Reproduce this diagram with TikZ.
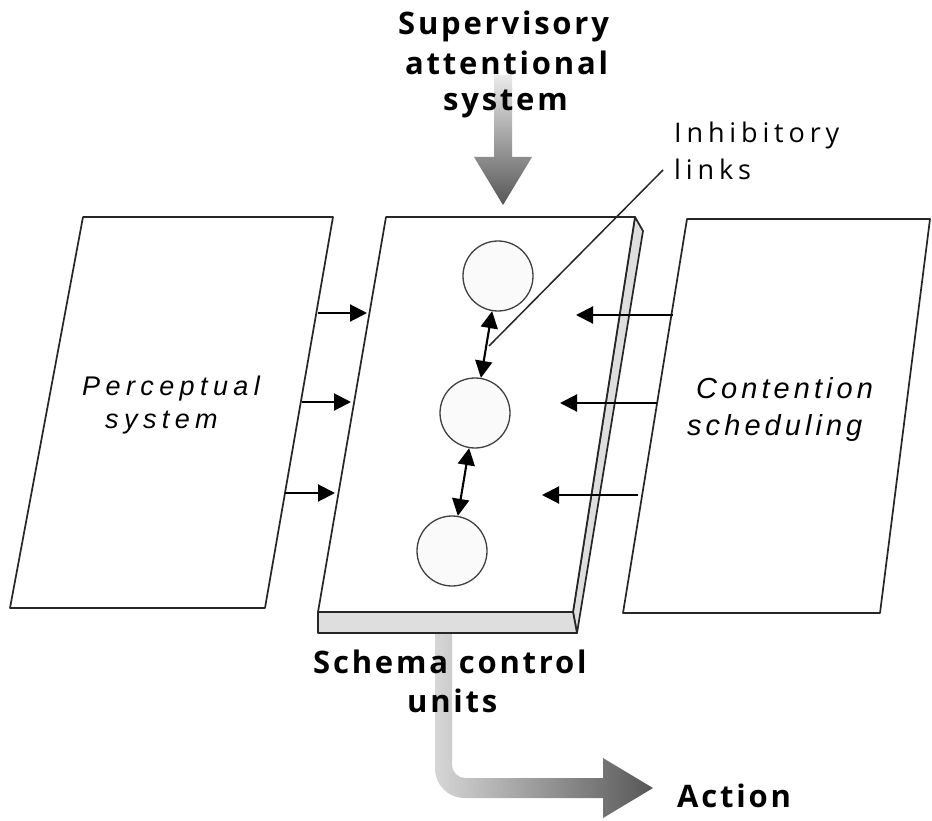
\documentclass[tikz,border=0pt]{standalone}
\usepackage{fontspec}
\usetikzlibrary{arrows.meta,calc}
\newfontfamily\headfont[LetterSpace=9]{Open Sans}
\newfontfamily\notefont[LetterSpace=18]{Open Sans}
\newfontfamily\percfont[LetterSpace=20]{Liberation Sans}
\newfontfamily\contfont[LetterSpace=14]{Liberation Sans}
\begin{document}
\begin{tikzpicture}[x=1pt,y=-1pt,line join=round,
  outline/.style={draw=black!85,line width=1.7pt},
  slabside/.style={outline,fill=black!13},
  unit/.style={circle,draw=black!75,line width=1.3pt,fill=black!2,minimum size=70pt,inner sep=0pt},
  feed/.style={line width=2.1pt,-{Triangle[length=17pt,width=17pt]}},
  link/.style={line width=2.1pt,{Triangle[length=17pt,width=17pt]}-{Triangle[length=17pt,width=17pt]}},
  headlabel/.style={inner sep=0pt,anchor=base west,font=\headfont\bfseries\fontsize{31}{31}\selectfont},
  notelabel/.style={inner sep=0pt,anchor=base west,font=\notefont\fontsize{27}{27}\selectfont},
  perclabel/.style={inner sep=0pt,anchor=base west,font=\percfont\itshape\fontsize{27}{27}\selectfont},
  contlabel/.style={inner sep=0pt,anchor=base west,font=\contfont\itshape\fontsize{29}{29}\selectfont}]

\clip (0,0) rectangle (932,821);
\fill[white] (0,0) rectangle (932,821);

% supervisory input: broad shaded arrow onto the slab
\shade[top color=black!8,bottom color=black!66]
  (494,75) -- (512,75) -- (512,157) -- (532,157) -- (503,205)
  -- (474,157) -- (494,157) -- cycle;

% output: bent shaded arrow towards the action label
\shade[left color=black!16,right color=black!66]
  (435,633) -- (435,768) .. controls (435,785) and (448,798) .. (465,798)
  -- (603,798) -- (603,818) -- (653,788) -- (603,758) -- (603,778)
  -- (465,778) .. controls (458,778) and (452,772) .. (452,765)
  -- (452,633) -- cycle;

% perceptual system panel
\draw[outline] (83,217) -- (333,217) -- (265,608) -- (10,608) -- cycle;

% contention scheduling panel
\draw[outline] (687,219) -- (930,219) -- (880,613) -- (623,613) -- cycle;

% schema control slab: right side, bottom edge, then the front face
\draw[slabside] (635,217) -- (643,231) -- (577,633) -- (573,612) -- cycle;
\draw[slabside] (318,612) -- (573,612) -- (577,633) -- (318,633) -- cycle;
\draw[outline,fill=white] (386,217) -- (635,217) -- (573,612) -- (318,612) -- cycle;

% schema units
\node[unit] (u1) at (498,276) {};
\node[unit] (u2) at (475,413) {};
\node[unit] (u3) at (452,551) {};
\draw[link] (u1) -- (u2);
\draw[link] (u2) -- (u3);

% inputs from the perceptual system
\coordinate (pa1) at (318,313); \coordinate (pb1) at (367,313);
\coordinate (pa2) at (302,402); \coordinate (pb2) at (351,402);
\coordinate (pa3) at (285,493); \coordinate (pb3) at (335,493);
\draw[feed] (pa1) -- (pb1);
\draw[feed] (pa2) -- (pb2);
\draw[feed] (pa3) -- (pb3);

% inputs from contention scheduling
\coordinate (ca1) at (673,315); \coordinate (cb1) at (576,315);
\coordinate (ca2) at (657,403); \coordinate (cb2) at (560,403);
\coordinate (ca3) at (638,495); \coordinate (cb3) at (542,495);
\draw[feed] (ca1) -- (cb1);
\draw[feed] (ca2) -- (cb2);
\draw[feed] (ca3) -- (cb3);

% labels
\node[headlabel] (sas1) at (398,35) {Supervisory};
\node[headlabel] (sas2) at (405,75) {attentional};
\node[headlabel] (sas3) at (443,111) {system};
\node[headlabel] (scu1) at (313,673) {Schema control};
\node[headlabel] (scu2) at (407,712) {units};
\node[headlabel] (act) at (677,807) {Action};

\node[notelabel] (inh1) at (674,143) {Inhibitory};
\node[notelabel] (inh2) at (674,180) {links};

\node[perclabel] (per1) at (82,395) {Perceptual};
\node[perclabel] (per2) at (105,428) {system};

\node[contlabel] (con1) at (696,398) {Contention};
\node[contlabel] (con2) at (687,435) {scheduling};

% pointer from the label to the inhibitory link
\coordinate (linkfoot) at (489,346);
\coordinate (linkhead) at (663,170);
\draw[line width=1.5pt,black!85] (linkfoot) -- (linkhead);

\end{tikzpicture}
\end{document}
